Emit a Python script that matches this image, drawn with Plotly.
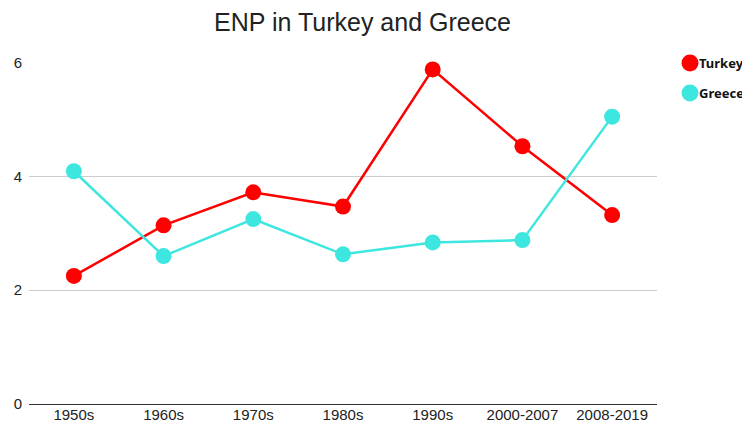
import plotly.graph_objects as go

categories = ["1950s", "1960s", "1970s", "1980s", "1990s", "2000-2007", "2008-2019"]
turkey = [2.25, 3.14, 3.72, 3.47, 5.88, 4.53, 3.32]
greece = [4.09, 2.60, 3.25, 2.63, 2.84, 2.88, 5.05]
y_ticks = [0, 2, 4, 6]
series_names = ["Turkey", "Greece"]

RED = "#ff0000"
CYAN = "#3ee6e0"
colors = [RED, CYAN]

# page body has an 8px margin, so the figure is drawn 8px smaller
W, H = 742, 417
ML, MR, MT, MB = 21, 93, 54, 21
PW, PH = W - ML - MR, H - MT - MB

fig = go.Figure()
for name, vals, col in zip(series_names, [turkey, greece], colors):
    fig.add_trace(go.Scatter(x=categories, y=vals, mode="lines+markers", name=name,
                             line=dict(color=col, width=2.5),
                             marker=dict(color=col, size=16),
                             showlegend=False, cliponaxis=False))

# custom legend: circle + bold label, positioned in pixels converted to paper units
shapes, annotations = [], []
leg_cx, leg_r, text_x = 682, 8.5, 689
for i, (name, col) in enumerate(zip(series_names, colors)):
    cy = 55 + 30 * i
    px = (leg_cx - ML) / PW
    py = (H - MB - cy) / PH
    rx, ry = leg_r / PW, leg_r / PH
    shapes.append(dict(type="circle", xref="paper", yref="paper",
                       x0=px - rx, x1=px + rx, y0=py - ry, y1=py + ry,
                       fillcolor=col, line=dict(width=0)))
    annotations.append(dict(xref="paper", yref="paper", x=(text_x - ML) / PW, y=py,
                            xanchor="left", yanchor="middle", showarrow=False,
                            text=f"<b>{name}</b>",
                            font=dict(family="Noto Sans", size=13, color="#111")))

fig.update_layout(
    width=W, height=H,
    margin=dict(l=ML, r=MR, t=MT, b=MB, autoexpand=False),
    paper_bgcolor="white", plot_bgcolor="white",
    showlegend=False,
    shapes=shapes, annotations=annotations,
    title=dict(text="ENP in Turkey and Greece", x=0.4778, xanchor="center",
               yref="container", y=0.966, yanchor="middle",
               font=dict(family="Liberation Sans, Arial", size=25, color="#222")),
    font=dict(family="Liberation Sans, Arial", size=15, color="#333"),
    xaxis=dict(type="category", showgrid=False, showline=False, ticks="",
               tickfont=dict(size=15, color="#222"), range=[-0.5, 6.5], automargin=False),
    yaxis=dict(range=[0, 6.01], tickvals=y_ticks, showgrid=True, gridcolor="#cccccc", gridwidth=1,
               zeroline=True, zerolinecolor="#333333", zerolinewidth=1,
               showline=False, ticks="", tickfont=dict(size=15, color="#222"),
               ticklabelstandoff=6, automargin=False),
)
fig.write_html("out.html")
